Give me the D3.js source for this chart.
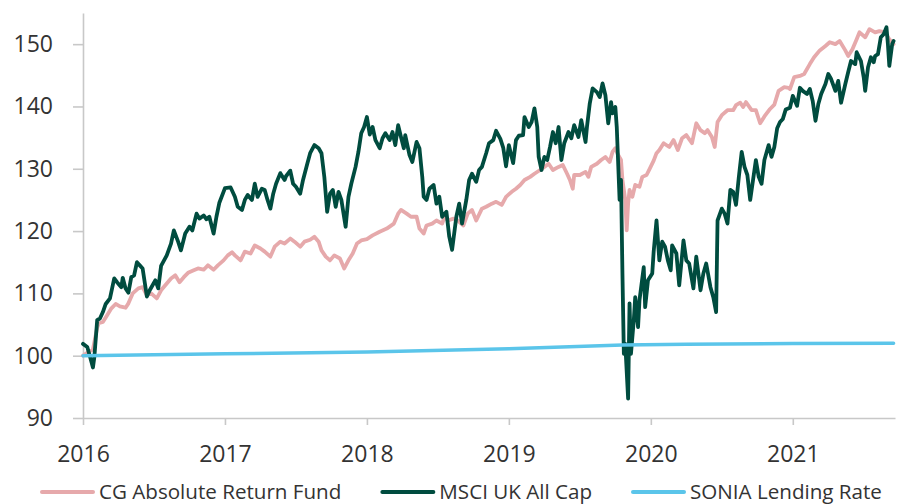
<!DOCTYPE html>
<html>
<head>
<meta charset="utf-8">
<script src="https://cdn.jsdelivr.net/npm/d3@7"></script>
<style>
	html, body { margin: 0; padding: 0; background: #fff; }
	svg { display: block; }
	text { font-family: 'Open Sans', 'Noto Sans', sans-serif; fill: #333; }
</style>
</head>
<body>
<svg id="chart" width="898" height="504"></svg>
<script>
// decimal year, index value (rebased to 100 at start of 2016)
const cgFund = [
	[2016.00, 100.0], [2016.04, 100.6], [2016.07, 101.0], [2016.10, 104.5], [2016.11, 105.2], [2016.14, 105.4],
	[2016.17, 106.5], [2016.20, 107.6], [2016.23, 108.3], [2016.26, 107.9], [2016.30, 107.7], [2016.32, 108.4],
	[2016.35, 110.0], [2016.39, 110.8], [2016.42, 111.0], [2016.45, 109.7], [2016.48, 110.0], [2016.52, 109.2],
	[2016.55, 110.5], [2016.59, 111.6], [2016.62, 112.4], [2016.65, 112.9], [2016.68, 111.8], [2016.71, 112.6],
	[2016.74, 113.3], [2016.78, 113.7], [2016.81, 114.0], [2016.85, 113.8], [2016.88, 114.5], [2016.92, 113.8],
	[2016.95, 114.5], [2016.99, 115.3], [2017.02, 116.1], [2017.05, 116.6], [2017.07, 116.1], [2017.11, 115.3],
	[2017.14, 116.7], [2017.18, 116.4], [2017.21, 117.7], [2017.25, 117.2], [2017.28, 116.7], [2017.32, 115.9],
	[2017.35, 117.5], [2017.39, 118.3], [2017.42, 118.0], [2017.46, 118.8], [2017.49, 118.3], [2017.53, 117.5],
	[2017.56, 118.3], [2017.60, 118.6], [2017.63, 119.1], [2017.66, 118.3], [2017.68, 116.9], [2017.71, 115.9],
	[2017.74, 115.3], [2017.77, 116.1], [2017.81, 115.6], [2017.84, 114.0], [2017.87, 115.3], [2017.90, 116.4],
	[2017.93, 118.0], [2017.96, 118.5], [2018.00, 118.7], [2018.04, 119.3], [2018.09, 119.9], [2018.14, 120.4],
	[2018.19, 121.2], [2018.22, 122.8], [2018.24, 123.4], [2018.28, 122.8], [2018.31, 122.3], [2018.35, 122.3],
	[2018.37, 120.4], [2018.40, 119.6], [2018.42, 120.9], [2018.46, 121.2], [2018.49, 121.7], [2018.53, 121.2],
	[2018.55, 122.5], [2018.57, 121.7], [2018.61, 122.0], [2018.64, 121.7], [2018.68, 120.9], [2018.71, 122.8],
	[2018.74, 123.4], [2018.77, 121.7], [2018.81, 123.6], [2018.84, 123.9], [2018.88, 124.4], [2018.91, 124.7],
	[2018.95, 124.2], [2018.98, 125.5], [2019.02, 126.3], [2019.05, 126.8], [2019.08, 127.4], [2019.11, 128.2],
	[2019.15, 128.7], [2019.18, 129.2], [2019.22, 129.8], [2019.25, 130.3], [2019.28, 130.8], [2019.31, 129.8],
	[2019.35, 130.3], [2019.38, 130.6], [2019.41, 129.2], [2019.43, 128.2], [2019.45, 126.8], [2019.46, 129.0],
	[2019.50, 129.0], [2019.54, 129.5], [2019.56, 128.7], [2019.58, 130.3], [2019.62, 130.8], [2019.65, 131.4],
	[2019.68, 131.9], [2019.71, 131.1], [2019.73, 132.7], [2019.75, 133.3], [2019.77, 132.2], [2019.79, 131.4],
	[2019.80, 128.2], [2019.82, 125.0], [2019.83, 120.1], [2019.84, 124.4], [2019.85, 126.6], [2019.87, 125.5],
	[2019.89, 127.4], [2019.92, 127.1], [2019.94, 128.7], [2019.97, 129.0], [2019.99, 129.9], [2020.02, 131.3],
	[2020.04, 132.5], [2020.06, 133.0], [2020.09, 134.1], [2020.13, 133.5], [2020.16, 134.6], [2020.19, 133.0],
	[2020.22, 134.9], [2020.25, 135.4], [2020.29, 134.1], [2020.32, 137.3], [2020.35, 136.2], [2020.38, 135.7],
	[2020.40, 136.2], [2020.43, 135.1], [2020.45, 133.5], [2020.47, 137.5], [2020.50, 138.6], [2020.54, 139.4],
	[2020.58, 139.4], [2020.60, 140.2], [2020.63, 140.6], [2020.65, 139.9], [2020.67, 140.7], [2020.71, 139.4],
	[2020.74, 139.4], [2020.77, 137.3], [2020.80, 138.4], [2020.84, 139.6], [2020.87, 140.3], [2020.90, 142.5],
	[2020.94, 143.1], [2020.97, 143.0], [2020.98, 142.8], [2021.01, 144.7], [2021.05, 144.9], [2021.08, 145.2],
	[2021.12, 146.8], [2021.15, 147.9], [2021.19, 149.0], [2021.23, 149.7], [2021.26, 150.3], [2021.30, 150.0],
	[2021.33, 150.5], [2021.37, 149.0], [2021.39, 148.1], [2021.42, 149.2], [2021.45, 150.8], [2021.47, 151.9],
	[2021.51, 151.1], [2021.54, 152.4], [2021.58, 151.9], [2021.61, 152.1], [2021.65, 151.9], [2021.68, 150.8],
	[2021.71, 150.0]
];

const msciUk = [
	[2016.00, 101.9], [2016.03, 101.4], [2016.05, 99.8], [2016.07, 98.1], [2016.08, 99.8], [2016.10, 105.7],
	[2016.12, 106.0], [2016.14, 107.0], [2016.16, 108.3], [2016.19, 109.2], [2016.22, 112.4], [2016.24, 111.8],
	[2016.27, 111.0], [2016.28, 112.5], [2016.30, 110.8], [2016.32, 110.1], [2016.34, 112.6], [2016.36, 112.9],
	[2016.38, 115.0], [2016.40, 114.5], [2016.42, 114.0], [2016.45, 109.5], [2016.47, 110.5], [2016.51, 112.1],
	[2016.53, 110.8], [2016.55, 114.4], [2016.59, 116.1], [2016.62, 118.0], [2016.64, 120.1], [2016.67, 118.3],
	[2016.69, 116.9], [2016.72, 119.6], [2016.75, 120.7], [2016.77, 120.1], [2016.80, 122.8], [2016.82, 122.0],
	[2016.85, 122.5], [2016.87, 121.9], [2016.89, 122.3], [2016.92, 119.6], [2016.94, 122.3], [2016.96, 124.5],
	[2017.00, 126.9], [2017.04, 127.0], [2017.07, 125.5], [2017.09, 123.9], [2017.12, 123.4], [2017.14, 125.0],
	[2017.16, 125.8], [2017.19, 125.0], [2017.21, 127.6], [2017.23, 125.5], [2017.26, 126.8], [2017.28, 126.6],
	[2017.30, 125.0], [2017.32, 123.6], [2017.34, 126.0], [2017.36, 127.6], [2017.39, 129.3], [2017.42, 128.2],
	[2017.43, 128.8], [2017.46, 129.7], [2017.48, 127.6], [2017.50, 127.1], [2017.53, 126.0], [2017.55, 128.2],
	[2017.58, 130.8], [2017.60, 132.5], [2017.63, 133.8], [2017.66, 133.3], [2017.68, 132.5], [2017.70, 128.7],
	[2017.72, 123.1], [2017.74, 126.0], [2017.76, 126.6], [2017.78, 123.9], [2017.80, 126.3], [2017.82, 125.0],
	[2017.85, 120.7], [2017.87, 125.5], [2017.89, 127.6], [2017.92, 130.3], [2017.94, 132.7], [2017.96, 135.7],
	[2017.98, 136.7], [2018.00, 138.3], [2018.02, 135.5], [2018.04, 136.7], [2018.06, 134.6], [2018.09, 133.3],
	[2018.11, 134.9], [2018.13, 135.7], [2018.16, 134.6], [2018.18, 135.9], [2018.20, 133.8], [2018.22, 137.0],
	[2018.24, 135.1], [2018.26, 133.3], [2018.27, 135.4], [2018.30, 132.2], [2018.32, 131.1], [2018.35, 134.3],
	[2018.37, 133.3], [2018.39, 128.7], [2018.40, 125.5], [2018.42, 125.0], [2018.44, 126.8], [2018.47, 127.4],
	[2018.49, 124.4], [2018.51, 125.5], [2018.53, 122.3], [2018.56, 123.1], [2018.58, 119.1], [2018.60, 117.0],
	[2018.63, 122.3], [2018.65, 124.4], [2018.67, 121.2], [2018.70, 125.0], [2018.72, 128.2], [2018.74, 129.2],
	[2018.77, 127.9], [2018.79, 129.8], [2018.81, 130.3], [2018.84, 132.5], [2018.86, 134.1], [2018.89, 134.6],
	[2018.91, 136.1], [2018.94, 134.8], [2018.96, 133.4], [2018.98, 130.4], [2019.00, 133.8], [2019.03, 130.9],
	[2019.05, 134.6], [2019.07, 135.3], [2019.10, 135.4], [2019.11, 138.3], [2019.14, 136.7], [2019.16, 137.5],
	[2019.18, 139.7], [2019.20, 136.7], [2019.21, 131.9], [2019.23, 129.8], [2019.25, 131.9], [2019.27, 131.4],
	[2019.29, 133.5], [2019.31, 135.9], [2019.33, 134.1], [2019.35, 136.7], [2019.37, 131.4], [2019.39, 134.1],
	[2019.42, 135.9], [2019.44, 134.9], [2019.46, 137.0], [2019.49, 135.1], [2019.51, 137.8], [2019.54, 134.3],
	[2019.55, 136.7], [2019.57, 140.5], [2019.59, 142.9], [2019.62, 142.3], [2019.64, 141.5], [2019.66, 143.7],
	[2019.68, 141.8], [2019.70, 137.3], [2019.72, 140.7], [2019.73, 138.9], [2019.75, 139.9], [2019.76, 136.7],
	[2019.78, 125.0], [2019.79, 128.2], [2019.80, 113.2], [2019.81, 100.3], [2019.82, 101.9], [2019.84, 93.1],
	[2019.85, 108.4], [2019.86, 100.3], [2019.88, 105.7], [2019.89, 109.4], [2019.91, 104.6], [2019.92, 108.9],
	[2019.95, 114.2], [2019.96, 107.8], [2019.98, 112.1], [2020.01, 113.2], [2020.02, 116.7], [2020.04, 121.7],
	[2020.06, 115.3], [2020.08, 118.3], [2020.10, 117.5], [2020.12, 115.3], [2020.14, 113.7], [2020.15, 117.7],
	[2020.18, 116.4], [2020.20, 111.3], [2020.23, 118.5], [2020.25, 115.3], [2020.27, 114.8], [2020.30, 110.8],
	[2020.32, 115.9], [2020.35, 110.5], [2020.37, 113.2], [2020.39, 114.8], [2020.42, 111.0], [2020.44, 109.4],
	[2020.46, 107.0], [2020.47, 121.7], [2020.50, 123.6], [2020.52, 122.8], [2020.54, 121.2], [2020.56, 126.6],
	[2020.58, 126.3], [2020.60, 124.2], [2020.62, 128.7], [2020.64, 132.7], [2020.66, 130.3], [2020.68, 129.0],
	[2020.70, 125.0], [2020.72, 128.2], [2020.74, 131.4], [2020.76, 128.7], [2020.78, 127.6], [2020.80, 131.4],
	[2020.83, 133.8], [2020.85, 131.9], [2020.87, 133.5], [2020.89, 136.5], [2020.91, 137.5], [2020.93, 138.0],
	[2020.95, 139.5], [2020.98, 139.8], [2021.00, 141.7], [2021.03, 140.1], [2021.05, 143.0], [2021.07, 142.5],
	[2021.10, 142.0], [2021.12, 142.8], [2021.14, 140.9], [2021.16, 137.7], [2021.18, 140.4], [2021.20, 142.0],
	[2021.23, 143.6], [2021.25, 145.2], [2021.27, 144.4], [2021.30, 142.5], [2021.32, 144.1], [2021.34, 140.6],
	[2021.37, 143.6], [2021.39, 145.5], [2021.41, 147.3], [2021.44, 146.8], [2021.45, 148.7], [2021.48, 147.3],
	[2021.50, 144.6], [2021.51, 142.5], [2021.53, 146.3], [2021.55, 147.9], [2021.57, 147.1], [2021.58, 148.1],
	[2021.60, 148.4], [2021.62, 151.1], [2021.64, 151.6], [2021.66, 152.7], [2021.67, 150.0], [2021.68, 146.5],
	[2021.70, 150.0], [2021.71, 150.5]
];

const sonia = [
	[2016.00, 100.0], [2017.00, 100.3], [2018.00, 100.6], [2019.00, 101.1],
	[2019.80, 101.7], [2020.25, 101.85], [2021.00, 101.95], [2021.71, 102.0]
];

const yearTicks = [2016, 2017, 2018, 2019, 2020, 2021];
const valueTicks = [90, 100, 110, 120, 130, 140, 150];
const seriesNames = ['CG Absolute Return Fund', 'MSCI UK All Cap', 'SONIA Lending Rate'];
const seriesColors = ['#e6a9ab', '#004c3f', '#5bc5ea'];

const svg = d3.select('#chart');
const margin = { left: 83, right: 3, top: 13, bottom: 86 };
const width = +svg.attr('width');
const height = +svg.attr('height');

const x = d3.scaleLinear().domain([2016, 2021.72]).range([margin.left, width - margin.right]);
const y = d3.scaleLinear().domain([90, 155]).range([height - margin.bottom, margin.top]);

const axisColor = '#c8c8c8';

// x axis
const xAxis = svg.append('g')
	.attr('transform', `translate(0,${y(90)})`)
	.call(d3.axisBottom(x).tickValues(yearTicks).tickFormat(d3.format('d')).tickSize(7).tickSizeOuter(0).tickPadding(21));
xAxis.select('.domain').attr('stroke', axisColor).attr('stroke-width', 1.6);
xAxis.selectAll('.tick line').attr('stroke', axisColor).attr('stroke-width', 1.6);
xAxis.selectAll('.tick text').style('font-size', '23px').attr('fill', '#333');

// y axis
const yAxis = svg.append('g')
	.attr('transform', `translate(${x(2016)},0)`)
	.call(d3.axisLeft(y).tickValues(valueTicks).tickSize(10).tickSizeOuter(0).tickPadding(20));
yAxis.select('.domain').attr('stroke', axisColor).attr('stroke-width', 1.6);
yAxis.selectAll('.tick line').attr('stroke', axisColor).attr('stroke-width', 1.6);
yAxis.selectAll('.tick text').style('font-size', '23px').attr('fill', '#333');

const line = d3.line()
	.x((d) => x(d[0]))
	.y((d) => y(d[1]))
	.curve(d3.curveLinear);

[cgFund, msciUk, sonia].forEach((series, i) => {
	svg.append('path')
		.datum(series)
		.attr('d', line)
		.attr('fill', 'none')
		.attr('stroke', seriesColors[i])
		.attr('stroke-width', i === 2 ? 3.5 : 3.8)
		.attr('stroke-linejoin', 'round')
		.attr('stroke-linecap', 'round');
});

// legend
const legend = svg.append('g').attr('transform', `translate(0,${height - 12})`);
let lx = 42;
seriesNames.forEach((name, i) => {
	const item = legend.append('g').attr('transform', `translate(${lx},0)`);
	item.append('line')
		.attr('x1', 0).attr('x2', 51)
		.attr('y1', 0).attr('y2', 0)
		.attr('stroke', seriesColors[i])
		.attr('stroke-width', 4)
		.attr('stroke-linecap', 'round');
	const t = item.append('text')
		.attr('x', 57)
		.attr('dy', '0.35em')
		.style('font-size', '20.6px')
		.text(name);
	lx += 57 + t.node().getComputedTextLength() + 41;
});
</script>
</body>
</html>
